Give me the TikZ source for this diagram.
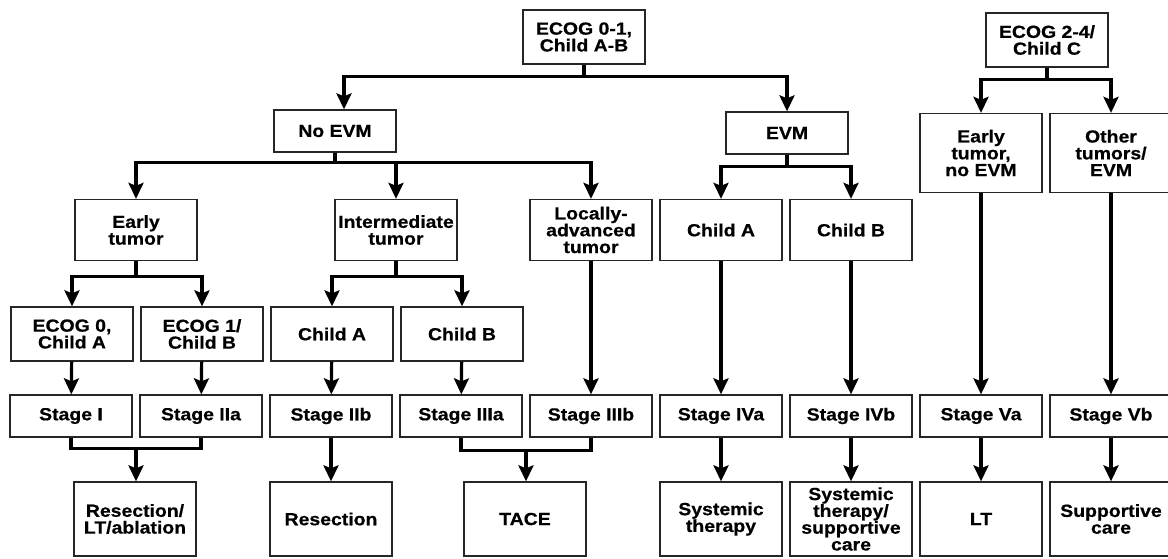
\documentclass[tikz,border=0pt]{standalone}
\usepackage{fontspec}
\setmainfont{Liberation Sans}[FakeStretch=1.11, BoldFeatures={FakeBold=0.6}]
\usetikzlibrary{arrows.meta, positioning}

\tikzset{
  box/.style={draw=black!85, line width=1.3pt, minimum width=122pt, inner sep=1pt,
    align=center, font=\fontsize{17.5}{16.8}\selectfont\bfseries},
  link/.style={line width=3.2pt},
  arr/.style={link, -{Stealth[length=16pt,width=15pt,inset=3pt]}}
}

\begin{document}
\begin{tikzpicture}[x=1pt, y=-1pt, node distance=130pt, on grid]
    \useasboundingbox (0,0) rectangle (1168,558);
    % first level
    \node[box, minimum height=54pt] (ecog01) at (584,37) {ECOG 0-1,\\Child A-B};
    \node[box, minimum height=54pt] (ecog24) at (1047,40) {ECOG 2-4/\\Child C};
    \node[box, minimum height=42pt] (noevm) at (335,131) {No EVM};
    \node[box, minimum height=42pt] (evm) at (787,133) {EVM};
    % tumor types
    \node[box, minimum height=61pt] (early) at (136,230) {Early\\tumor};
    \node[box, minimum height=61pt] (inter) [right=260pt of early] {Intermediate\\tumor};
    \node[box, minimum height=61pt] (local) [right=195pt of inter] {Locally-\\advanced\\tumor};
    \node[box, minimum height=61pt] (evmA) [right of=local] {Child A};
    \node[box, minimum height=61pt] (evmB) [right of=evmA] {Child B};
    \node[box, minimum height=79pt] (earlyC) at (981,153) {Early\\tumor,\\no EVM};
    \node[box, minimum height=79pt] (otherC) [right of=earlyC] {Other\\tumors/\\EVM};
    % performance status / liver function
    \node[box, minimum height=54pt] (ecog0) at (72,334) {ECOG 0,\\Child A};
    \node[box, minimum height=54pt] (ecog1) [right of=ecog0] {ECOG 1/\\Child B};
    \node[box, minimum height=54pt] (interA) [right of=ecog1] {Child A};
    \node[box, minimum height=54pt] (interB) [right of=interA] {Child B};
    % stages
    \node[box, minimum height=42pt] (s1) at (71,416) {Stage I};
    \node[box, minimum height=42pt] (s2a) [right of=s1] {Stage IIa};
    \node[box, minimum height=42pt] (s2b) [right of=s2a] {Stage IIb};
    \node[box, minimum height=42pt] (s3a) [right of=s2b] {Stage IIIa};
    \node[box, minimum height=42pt] (s3b) [right of=s3a] {Stage IIIb};
    \node[box, minimum height=42pt] (s4a) [right of=s3b] {Stage IVa};
    \node[box, minimum height=42pt] (s4b) [right of=s4a] {Stage IVb};
    \node[box, minimum height=42pt] (s5a) [right of=s4b] {Stage Va};
    \node[box, minimum height=42pt] (s5b) [right of=s5a] {Stage Vb};
    % treatments
    \node[box, minimum height=74pt] (resLT) at (135,519) {Resection/\\LT/ablation};
    \node[box, minimum height=74pt] (resec) [below=103pt of s2b] {Resection};
    \node[box, minimum height=74pt] (tace) at (525,519) {TACE};
    \node[box, minimum height=74pt] (systh) [below=103pt of s4a] {Systemic\\therapy};
    \node[box, minimum height=74pt] (syssup) [below=103pt of s4b] {Systemic\\therapy/\\supportive\\care};
    \node[box, minimum height=74pt] (lt) [below=103pt of s5a] {LT};
    \node[box, minimum height=74pt] (supp) [below=103pt of s5b] {Supportive\\care};

    \draw[arr] (ecog01.south) -- ++(0,12) -| ([xshift=9pt]noevm.north);
    \draw[arr] (ecog01.south) -- ++(0,12) -| (evm.north);
    \draw[arr] (ecog24.south) -- ++(0,12) -| (earlyC.north);
    \draw[arr] (ecog24.south) -- ++(0,12) -| (otherC.north);
    \draw[arr] (noevm.south) -- ++(0,10) -| (early.north);
    \draw[arr] (noevm.south) -- ++(0,10) -| (inter.north);
    \draw[arr] (noevm.south) -- ++(0,10) -| (local.north);
    \draw[arr] (evm.south) -- ++(0,12) -| (evmA.north);
    \draw[arr] (evm.south) -- ++(0,12) -| (evmB.north);
    \draw[arr] (early.south) -- ++(0,15) -| (ecog0.north);
    \draw[arr] (early.south) -- ++(0,15) -| (ecog1.north);
    \draw[arr] (inter.south) -- ++(0,15) -| (interA.north);
    \draw[arr] (inter.south) -- ++(0,15) -| (interB.north);
    \draw[arr] (ecog0) -- (s1);
    \draw[arr] (ecog1) -- (s2a);
    \draw[arr] (interA) -- (s2b);
    \draw[arr] (interB) -- (s3a);
    \draw[arr] (local) -- (s3b);
    \draw[arr] (evmA) -- (s4a);
    \draw[arr] (evmB) -- (s4b);
    \draw[arr] (earlyC) -- (s5a);
    \draw[arr] (otherC) -- (s5b);
    \draw[link] (s1.south) -- ++(0,11) -| coordinate[pos=0.25] (m1) (s2a.south);
    \draw[arr] (m1) -- (m1 |- resLT.north);
    \draw[link] (s3a.south) -- ++(0,13) -| coordinate[pos=0.25] (m2) (s3b.south);
    \draw[arr] (m2) -- (m2 |- tace.north);
    \draw[arr] (s2b) -- (resec);
    \draw[arr] (s4a) -- (systh);
    \draw[arr] (s4b) -- (syssup);
    \draw[arr] (s5a) -- (lt);
    \draw[arr] (s5b) -- (supp);
\end{tikzpicture}
\end{document}
